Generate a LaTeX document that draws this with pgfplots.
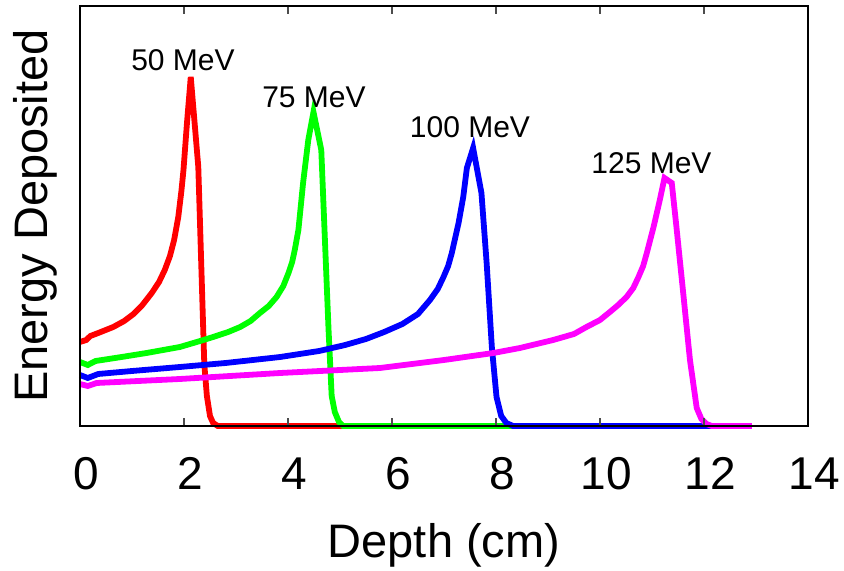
\documentclass[border=0pt]{standalone}
\usepackage{fontspec}
\setmainfont{Liberation Sans}
\usepackage{pgfplots}
\pgfplotsset{compat=1.18}
\definecolor{cred}{RGB}{255,0,0}
\definecolor{cgreen}{RGB}{0,255,0}
\definecolor{cblue}{RGB}{0,0,255}
\definecolor{cmag}{RGB}{255,0,255}
\begin{document}
\begin{tikzpicture}
\begin{axis}[
  scale only axis,
  width=364pt, height=210pt,
  xmin=0, xmax=14, ymin=0, ymax=420,
  xtick={0,2,4,6,8,10,12,14},
  ytick=\empty,
  tick align=inside,
  major tick length=4pt,
  xtick pos=both,
  every tick/.style={black!70, line width=0.6pt},
  axis line style={black, line width=0.9pt},
  /pgf/number format/assume math mode=true,
  xticklabel style={font=\fontsize{23}{27}\selectfont, anchor=base, yshift=-31.7pt, xshift=3pt},
  clip=false,
  axis on top,
  every axis plot/.append style={line width=2.9pt},
]
\addplot[cred] coordinates {
(0,84) (0.12,86) (0.2,90) (0.4,94) (0.64,99) (0.85,105) (1.03,112) (1.2,121)
(1.38,133) (1.52,144) (1.63,156) (1.73,170) (1.81,186) (1.89,209) (1.95,235)
(1.99,256) (2.06,305) (2.13,349) (2.275,259) (2.39,62) (2.44,30) (2.5,10)
(2.56,3) (2.65,0) (12.92,0)};
\addplot[cgreen] coordinates {
(0,64) (0.15,61) (0.3,65) (0.8,69) (1.28,73) (1.92,79) (2.31,85) (2.56,89)
(2.85,94) (3.08,99) (3.28,105) (3.46,113) (3.63,120) (3.78,129) (3.91,140)
(4.01,153) (4.08,164) (4.13,176) (4.2,196) (4.29,243) (4.39,286) (4.49,314)
(4.64,276) (4.71,186) (4.78,96) (4.84,30) (4.9,14) (4.98,4) (5.06,0) (12.92,0)};
\addplot[cblue] coordinates {
(0,51) (0.15,48) (0.35,52) (1.0,55) (1.92,59) (2.8,63) (3.85,69) (4.6,75)
(5.1,81) (5.5,87) (5.85,94) (6.2,102) (6.5,112) (6.73,126) (6.88,137)
(6.99,149) (7.08,160) (7.15,173) (7.28,203) (7.37,229) (7.44,258) (7.56,278)
(7.72,233) (7.82,163) (7.92,79) (8.01,29) (8.1,10) (8.2,3) (8.33,0) (12.92,0)};
\addplot[cmag] coordinates {
(0,42) (0.15,40) (0.32,43) (1.92,47) (3.85,53) (5.77,58) (7.0,66) (7.95,73)
(8.46,78) (9.1,86) (9.5,92) (9.74,99) (10.0,106) (10.19,114) (10.35,121)
(10.51,129) (10.64,138) (10.74,149) (10.83,160) (10.9,173) (11.03,199)
(11.15,226) (11.24,248) (11.38,243) (11.47,199) (11.6,133) (11.73,66)
(11.86,18) (11.95,7) (12.05,2) (12.15,0) (12.92,0)};
\node[font=\fontsize{15}{18}\selectfont] at (axis cs:1.98,366) {50 MeV};
\node[font=\fontsize{15}{18}\selectfont] at (axis cs:4.5,329) {75 MeV};
\node[font=\fontsize{15}{18}\selectfont] at (axis cs:7.5,299) {100 MeV};
\node[font=\fontsize{15}{18}\selectfont] at (axis cs:10.99,262.5) {125 MeV};
\end{axis}
\node[anchor=base, font=\fontsize{23.5}{28}\selectfont] at ([yshift=-66pt]current axis.south) {Depth (cm)};
\node[anchor=base, rotate=90, font=\fontsize{23.5}{28}\selectfont] at ([xshift=-16pt]current axis.west) {Energy Deposited};
\pgfresetboundingbox
\path[use as bounding box] ([shift={(-40pt,-72.5pt)}]current axis.south west) rectangle ([shift={(18pt,3pt)}]current axis.north east);
\end{tikzpicture}
\end{document}
